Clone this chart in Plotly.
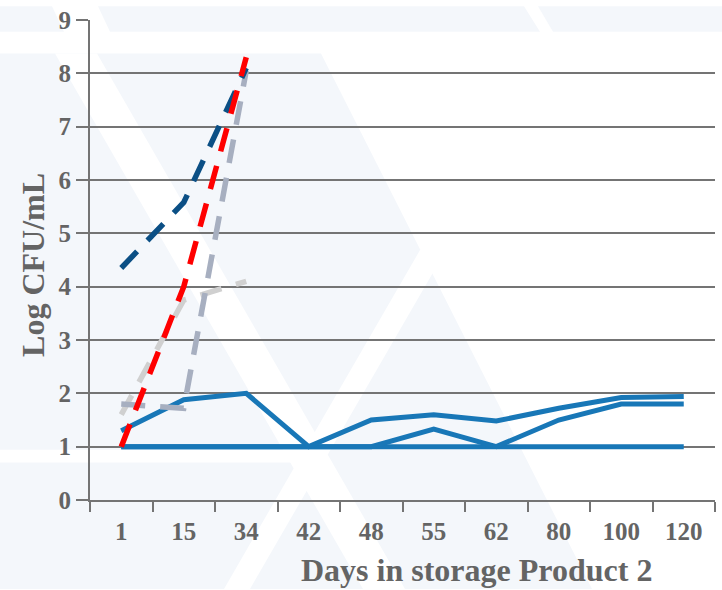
import plotly.graph_objects as go

# Storage days (categorical axis)
days = ["1", "15", "34", "42", "48", "55", "62", "80", "100", "120"]

# Solid series (log CFU/mL)
solid_a = [1.3, 1.88, 2.0, 1.0, 1.5, 1.6, 1.48, 1.72, 1.92, 1.94]
solid_b = [1.0, 1.0, 1.0, 1.0, 1.0, 1.33, 1.0, 1.5, 1.8, 1.8]
solid_c = [1.0, 1.0, 1.0, 1.0, 1.0, 1.0, 1.0, 1.0, 1.0, 1.0]

# Dashed series, measured only up to day 34
dash_days = ["1", "15", "34"]
dash_lightgray = [1.6, 3.75, 4.1]
dash_bluegray = [1.8, 1.72, 8.05]
dash_navy = [4.35, 5.58, 8.1]
dash_red = [1.0, 4.0, 8.3]

TEXT = "#646464"
GRID = "#747474"
FONT = "Liberation Serif"

fig = go.Figure()

for ys in (solid_c, solid_b, solid_a):
    fig.add_trace(go.Scatter(x=days, y=ys, mode="lines",
                             line=dict(color="#1877b7", width=5),
                             showlegend=False, hoverinfo="skip"))

for ys, col, pattern in ((dash_lightgray, "#d0d0d0", "22px,15px"),
                         (dash_bluegray, "#a7afc0", "24px,15px"),
                         (dash_navy, "#0b4f85", "23px,15px"),
                         (dash_red, "#ff0000", "24px,15px")):
    fig.add_trace(go.Scatter(x=dash_days, y=ys, mode="lines",
                             line=dict(color=col, width=5.5, dash=pattern),
                             showlegend=False, hoverinfo="skip"))

# Faint background watermark, defined in page pixels
PX0, PW, PY0, PH = 90, 625, 500, 486


def poly(points):
    d = "M " + " L ".join(f"{(x - PX0) / PW:.4f},{(PY0 - y) / PH:.4f}" for x, y in points) + " Z"
    return d


tint = "#f4f7fb"
light_polys = [
    [(0, 0), (52, 0), (64, 26), (0, 26)],
    [(98, 0), (524, 0), (540, 26), (110, 26)],
    [(538, 0), (722, 0), (722, 26), (553, 26)],
    [(0, 48), (321, 48), (592, 590), (0, 590)],
]
white_polys = [
    [(55, 48), (97, 48), (405, 590), (363, 590)],
    [(420, 247), (446, 247), (250, 590), (224, 590)],
    [(0, 449), (315, 449), (315, 462), (0, 462)],
]
shapes = []
for pts in light_polys:
    shapes.append(dict(type="path", path=poly(pts), xref="paper", yref="paper",
                       fillcolor=tint, line=dict(width=0), layer="below"))
for pts in white_polys:
    shapes.append(dict(type="path", path=poly(pts), xref="paper", yref="paper",
                       fillcolor="white", line=dict(width=0), layer="below"))

fig.update_layout(
    width=722, height=590,
    margin=dict(l=90, r=7, t=14, b=90),
    paper_bgcolor="white",
    plot_bgcolor="rgba(0,0,0,0)",
    shapes=shapes,
    font=dict(family=FONT, color=TEXT),
    xaxis=dict(
        type="category", categoryorder="array", categoryarray=days,
        range=[-0.5, 9.5], tickson="boundaries",
        ticks="outside", ticklen=10, tickwidth=2, tickcolor=GRID,
        ticklabelstandoff=8,
        showline=True, linecolor=GRID, linewidth=2,
        showgrid=False, zeroline=False,
        tickfont=dict(family=FONT, size=25, color=TEXT, weight="bold"),
    ),
    yaxis=dict(
        range=[0, 9], dtick=1, tick0=0,
        ticks="outside", ticklen=12, tickwidth=2, tickcolor=GRID,
        showline=True, linecolor=GRID, linewidth=2,
        showgrid=True, gridcolor=GRID, gridwidth=2, zeroline=False,
        tickfont=dict(family=FONT, size=25, color=TEXT, weight="bold"),
    ),
    annotations=[
        dict(text="Days in storage Product 2", xref="paper", yref="paper",
             x=(476 - PX0) / PW, y=(PY0 - 571) / PH, xanchor="center", yanchor="middle",
             showarrow=False, font=dict(family=FONT, size=32, color=TEXT, weight="bold")),
        dict(text="Log CFU/mL", xref="paper", yref="paper", textangle=-90,
             x=(33 - PX0) / PW, y=(PY0 - 262) / PH, xanchor="center", yanchor="middle",
             showarrow=False, font=dict(family=FONT, size=32, color=TEXT, weight="bold")),
    ],
)

fig.write_html("out.html")
